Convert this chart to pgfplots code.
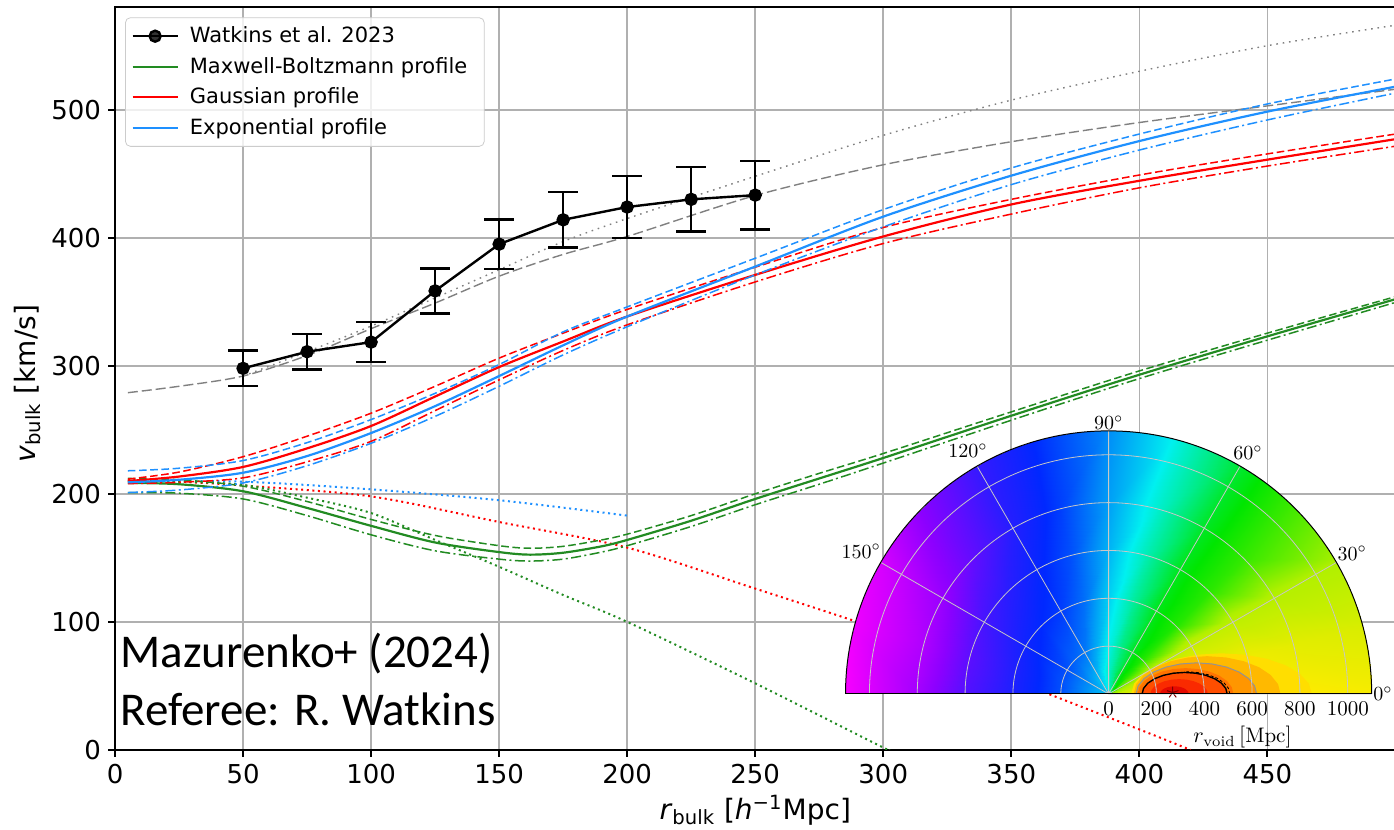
\documentclass[border=0pt]{standalone}
\usepackage{fontspec}
\usepackage{pgfplots}
\pgfplotsset{compat=1.18}
\usepgfplotslibrary{polar}
\newfontfamily\dejavu{DejaVu Sans}
\newfontfamily\carlito{Carlito}
\definecolor{mgreen}{RGB}{34,139,34}
\definecolor{mblue}{RGB}{30,144,255}
\definecolor{mgray}{RGB}{128,128,128}
\definecolor{gridc}{RGB}{176,176,176}
\definecolor{c1}{RGB}{255,222,0}
\definecolor{c2}{RGB}{255,185,0}
\definecolor{c3}{RGB}{255,150,0}
\definecolor{c4}{RGB}{255,115,0}
\definecolor{c5}{RGB}{255,78,0}
\definecolor{c6}{RGB}{250,42,0}
\definecolor{c7}{RGB}{228,10,0}
\tikzset{
 solidl/.style={line width=1.1pt},
 dashl/.style={line width=0.75pt, dash pattern=on 3.8pt off 1.8pt},
 dashdotl/.style={line width=0.75pt, dash pattern=on 5pt off 1.7pt on 1pt off 1.7pt},
 dotl/.style={line width=1pt, dash pattern=on 1pt off 1.8pt},
 gdashl/.style={line width=0.7pt, dash pattern=on 5pt off 2pt},
 gdotl/.style={line width=0.7pt, dash pattern=on 0.8pt off 2.4pt},
 plab/.style={anchor=north, inner sep=1pt, yshift=-2.5pt, font=\fontsize{10.5}{10.5}\selectfont},
}
\begin{document}
\begin{tikzpicture}
\useasboundingbox (-57.5pt,-39.65pt) rectangle (639.3pt,374.85pt);
\clip (-57.5pt,-39.65pt) rectangle (639.3pt,374.85pt);
\begin{axis}[
  scale only axis, width=640pt, height=371.2pt,
  xmin=0, xmax=500, ymin=0, ymax=580,
  xtick={0,50,...,450}, ytick={0,100,...,500},
  tick pos=left, tick align=outside, major tick length=3.5pt,
  tick style={black, line width=0.9pt},
  axis line style={black, line width=1pt},
  grid=major, major grid style={gridc, line width=0.8pt},
  /pgf/number format/assume math mode=true,
  ticklabel style={font=\dejavu\fontsize{13}{13}\selectfont},
  xlabel={\textit{r}\textsubscript{bulk} [\textit{h}\textsuperscript{−1}Mpc]},
  ylabel={\textit{v}\textsubscript{bulk} [km/s]},
  every axis x label/.style={at={(axis description cs:0.5,-0.0940)}, anchor=base, font=\dejavu\fontsize{14}{16}\selectfont},
  every axis y label/.style={at={(axis description cs:-0.0685,0.493)}, rotate=90, anchor=center, font=\dejavu\fontsize{14}{16}\selectfont},
  legend style={at={(axis description cs:0,1)}, anchor=north west, xshift=5pt, yshift=-5pt,
    draw=black!20, rounded corners=2.5pt, fill=white, fill opacity=0.8, draw opacity=1, text opacity=1,
    font=\dejavu\fontsize{10.5}{12}\selectfont, inner xsep=3pt, inner ysep=2.5pt, row sep=1.8pt,
    nodes={inner xsep=5.5pt}},
  legend cell align=left,
  legend image code/.code={\draw[mark repeat=2,mark phase=2,#1] plot coordinates {(0pt,0pt) (11.25pt,0pt) (22.5pt,0pt)};},
]
\addlegendimage{black, line width=1.2pt, mark=*, mark size=2.75pt}
\addlegendentry{Watkins et al. 2023}
\addlegendimage{mgreen, line width=1.1pt}
\addlegendentry{Maxwell-Boltzmann profile}
\addlegendimage{red, line width=1.1pt}
\addlegendentry{Gaussian profile}
\addlegendimage{mblue, line width=1.1pt}
\addlegendentry{Exponential profile}

% gray reference curves
\addplot[mgray, gdashl, smooth, forget plot] coordinates {(5,279)(25,284)(50,292)(75,308)(100,329)(125,349)(150,370)(175,387)(200,401)(250,433)(300,457)(350,475)(400,490)(450,503)(500,516)};
\addplot[mgray, gdotl, smooth, forget plot] coordinates {(50,292)(75,311)(100,331)(125,353)(150,375)(175,397)(200,415)(250,448)(300,480)(350,507.5)(400,530)(450,550)(500,566)};

% dotted profiles
\addplot[mblue, dotl, smooth, forget plot] coordinates {(5,210)(50,209.5)(100,203.5)(150,195)(200,183)};
\addplot[red, dotl, smooth, forget plot] coordinates {(5,211)(25,209.5)(50,206.5)(100,198)(150,178)(200,158)(250,126)(300,93)(350,55)(400,16)(420,0)};
\addplot[mgreen, dotl, smooth, forget plot] coordinates {(5,210)(25,209.5)(50,207)(75,197)(100,185)(125,164)(150,143)(175,121)(200,100)(250,52)(300,1.8)(302,0)};

% Maxwell-Boltzmann
\addplot[mgreen, dashl, smooth, forget plot] coordinates {(5,212)(25,211)(50,206)(75,194)(100,180)(125,167.5)(150,159.5)(162,157.5)(175,159)(190,164)(200,168.5)(225,183)(250,200)(275,216)(300,231.5)(350,264)(400,296)(450,325.5)(500,354)};
\addplot[mgreen, dashdotl, smooth, forget plot] coordinates {(5,201)(25,200.5)(50,196)(75,183)(100,168)(125,155.5)(150,149)(162,147.5)(175,149)(190,154.5)(200,159.5)(225,174.5)(250,191.5)(275,207.5)(300,224)(350,257.5)(400,290)(450,320)(500,349.5)};
\addplot[mgreen, solidl, smooth, forget plot] coordinates {(5,208.5)(25,207.5)(50,202)(75,189)(100,175)(125,162)(150,154.5)(162,152.5)(175,154)(190,159)(200,164)(225,179)(250,196)(275,212)(300,228)(350,261)(400,293)(450,323)(500,352)};

% Gaussian
\addplot[red, dashl, smooth, forget plot] coordinates {(5,211.5)(25,217)(50,229)(75,245)(100,263)(125,284)(150,306)(175,325.5)(200,344)(250,377)(300,408)(350,430)(400,449)(450,465.5)(500,481)};
\addplot[red, dashdotl, smooth, forget plot] coordinates {(5,208)(25,209)(50,212.5)(75,225)(100,241)(125,265)(150,289)(175,312)(200,332)(250,365.5)(300,395.5)(350,418.5)(400,439)(450,456)(500,471.5)};
\addplot[red, solidl, smooth, forget plot] coordinates {(5,210)(25,213.5)(50,221)(75,235.5)(100,253)(125,276)(150,299)(175,319)(200,338.5)(250,371)(300,401)(350,426)(400,444.5)(450,461)(500,477)};

% Exponential
\addplot[mblue, dashl, smooth, forget plot] coordinates {(5,218)(25,220)(50,226)(75,240)(100,258)(125,278.5)(150,301)(175,326.5)(200,346)(250,384)(300,422)(350,454.5)(400,481)(450,504.5)(500,524)};
\addplot[mblue, dashdotl, smooth, forget plot] coordinates {(5,201)(25,203)(50,208.5)(75,222)(100,239.5)(125,260.5)(150,284)(175,308.5)(200,330.5)(250,371)(300,408.5)(350,441.5)(400,468.5)(450,492)(500,513)};
\addplot[mblue, solidl, smooth, forget plot] coordinates {(5,209)(25,211)(50,216.5)(75,229.5)(100,247.5)(125,268.5)(150,292)(175,316)(200,338.5)(250,377.5)(300,416.5)(350,448.5)(400,475.5)(450,498.5)(500,518)};

% Watkins et al. 2023
\addplot[black, line width=1.2pt, mark=*, mark size=2.75pt, forget plot,
  error bars/.cd, y dir=both, y explicit,
  error bar style={line width=1.2pt},
  error mark options={rotate=90, mark size=7.5pt, line width=1.2pt}]
  table[x=x, y=y, y error=e] {
x y e
50 298 14
75 311 14
100 318.5 15.7
125 358.5 17.5
150 395 19.4
175 414 21.6
200 424 24.2
225 430 25.1
250 433.3 26.8
};

\node[anchor=base west, inner sep=0pt, font=\carlito\fontsize{23.5}{28}\selectfont] at (axis cs:2,64.6) {Mazurenko+ (2024)};
\node[anchor=base west, inner sep=0pt, font=\carlito\fontsize{23.5}{28}\selectfont] at (axis cs:2,19.3) {Referee: R. Watkins};
\coordinate (pc) at (axis cs:388,43.7);
\end{axis}

\begin{polaraxis}[
  at={(pc)}, anchor=origin,
  scale only axis, width=263pt, height=263pt,
  xmin=0, xmax=180, ymin=0, ymax=1100,
  clip mode=individual,
  xtick={0,30,60,90,120,150}, ytick={200,400,600,800,1000},
  yticklabels={},
  xticklabel={$\pgfmathprintnumber{\tick}^\circ$},
  grid=major, major grid style={draw=black!22, line width=0.4pt},
  axis line style={black, line width=0.5pt},
  major tick length=0pt,
  xticklabel style={font=\fontsize{10}{10}\selectfont, inner sep=0.6pt},
  colormap={rb}{rgb255=(255,0,0) rgb255=(255,128,0) rgb255=(255,235,0) rgb255=(175,240,0) rgb255=(0,230,0) rgb255=(0,240,240) rgb255=(0,40,255) rgb255=(140,0,255) rgb255=(255,0,255)},
  point meta min=0, point meta max=8,
  axis on top,
]
\addplot[surf, shader=interp, mesh/rows=7, mesh/cols=13, point meta=explicit] table[x=t, y=r, meta=m] {
t r m
0 0 2.5
15 0 2.8
30 0 3.2
45 0 3.7
60 0 4.1
75 0 4.4
90 0 4.7
105 0 4.9
120 0 5.0
135 0 5.1
150 0 5.2
165 0 5.2
180 0 5.2
0 100 2.3
15 100 2.7
30 100 3.2
45 100 3.8
60 100 4.1
75 100 4.5
90 100 4.8
105 100 5.1
120 100 5.3
135 100 5.4
150 100 5.5
165 100 5.5
180 100 5.5
0 200 1.8
15 200 2.3
30 200 2.9
45 200 3.8
60 200 4.1
75 200 4.55
90 200 4.95
105 200 5.35
120 200 5.6
135 200 5.7
150 200 5.8
165 200 5.8
180 200 5.8
0 400 1.6
15 400 2.1
30 400 2.7
45 400 3.8
60 400 4.1
75 400 4.65
90 400 5.15
105 400 5.65
120 400 5.9
135 400 6.0
150 400 6.1
165 400 6.2
180 400 6.2
0 600 1.8
15 600 2.2
30 600 2.8
45 600 3.75
60 600 4.1
75 600 4.75
90 600 5.3
105 600 5.8
120 600 6.05
135 600 6.3
150 600 6.5
165 600 6.65
180 600 6.6
0 800 2.0
15 800 2.35
30 800 2.9
45 800 3.7
60 800 4.15
75 800 4.85
90 800 5.4
105 800 5.9
120 800 6.25
135 800 6.7
150 800 7.1
165 800 7.3
180 800 7.2
0 1130 2.1
15 1130 2.5
30 1130 3.0
45 1130 3.6
60 1130 4.2
75 1130 4.95
90 1130 5.5
105 1130 5.95
120 1130 6.4
135 1130 7.0
150 1130 7.7
165 1130 7.9
180 1130 8.0
};
% void region: filled contour bands (cartesian input)
\addplot[fill=c1, draw=none, data cs=cart] coordinates {(850,0)(837.1,44)(799.3,85)(739.2,120.2)(661,147.2)(569.9,164.2)(472,170)(374.1,164.2)(283,147.2)(204.8,120.2)(144.7,85)(106.9,44)(94,0)} -- cycle;
\addplot[fill=c2, draw=none, data cs=cart] coordinates {(719,0)(708.6,40.9)(677.9,79)(629.1,111.7)(565.5,136.8)(491.5,152.6)(412,158)(332.5,152.6)(258.5,136.8)(194.9,111.7)(146.1,79)(115.4,40.9)(105,0)} -- cycle;
\addplot[fill=c3, draw=gray!85, line width=0.5pt, data cs=cart] coordinates {(619,0)(610.4,33.7)(585.2,65)(545.2,91.9)(493,112.6)(432.3,125.6)(367,130)(301.7,125.6)(241,112.6)(188.8,91.9)(148.8,65)(123.6,33.7)(115,0)} -- cycle;
\addplot[fill=c4, draw=none, data cs=cart] coordinates {(522,0)(515.2,28)(495.2,54)(463.4,76.4)(422,93.5)(373.8,104.3)(322,108)(270.2,104.3)(222,93.5)(180.6,76.4)(148.8,54)(128.8,28)(122,0)} -- cycle;
\addplot[fill=c5, draw=black, line width=0.7pt, data cs=cart] coordinates {(496,0)(489.9,23.3)(472.1,45)(443.8,63.6)(407,77.9)(364.1,86.9)(318,90)(271.9,86.9)(229,77.9)(192.2,63.6)(163.9,45)(146.1,23.3)(140,0)} -- cycle;
\addplot[black, line width=0.4pt, dash pattern=on 1.5pt off 1pt, data cs=cart] coordinates {(507,0)(500.8,24.1)(482.6,46.5)(453.7,65.8)(416,80.5)(372.1,89.8)(325,93)};
\addplot[fill=c6, draw=none, data cs=cart] coordinates {(415,0)(410.9,16.1)(398.9,31)(379.8,43.8)(355,53.7)(326.1,59.9)(295,62)(263.9,59.9)(235,53.7)(210.2,43.8)(191.1,31)(179.1,16.1)(175,0)} -- cycle;
\addplot[fill=c7, draw=none, data cs=cart] coordinates {(335,0)(333,8.3)(327,16)(317.4,22.6)(305,27.7)(290.5,30.9)(275,32)(259.5,30.9)(245,27.7)(232.6,22.6)(223,16)(217,8.3)(215,0)} -- cycle;
\addplot[only marks, mark=star, mark size=3pt, color=red!50!black, line width=0.5pt, data cs=cart] coordinates {(268,6)};
\node[plab] at (axis cs:0,0) {0};
\node[plab] at (axis cs:0,200) {200};
\node[plab] at (axis cs:0,400) {400};
\node[plab] at (axis cs:0,600) {600};
\node[plab] at (axis cs:0,800) {800};
\node[plab] at (axis cs:0,1000) {1000};
\node[anchor=north, inner sep=0pt, font=\fontsize{10.5}{10.5}\selectfont, yshift=-16pt] at (axis cs:0,560) {$r_{\mathrm{void}}\,[\mathrm{Mpc}]$};
\end{polaraxis}
\end{tikzpicture}
\end{document}
